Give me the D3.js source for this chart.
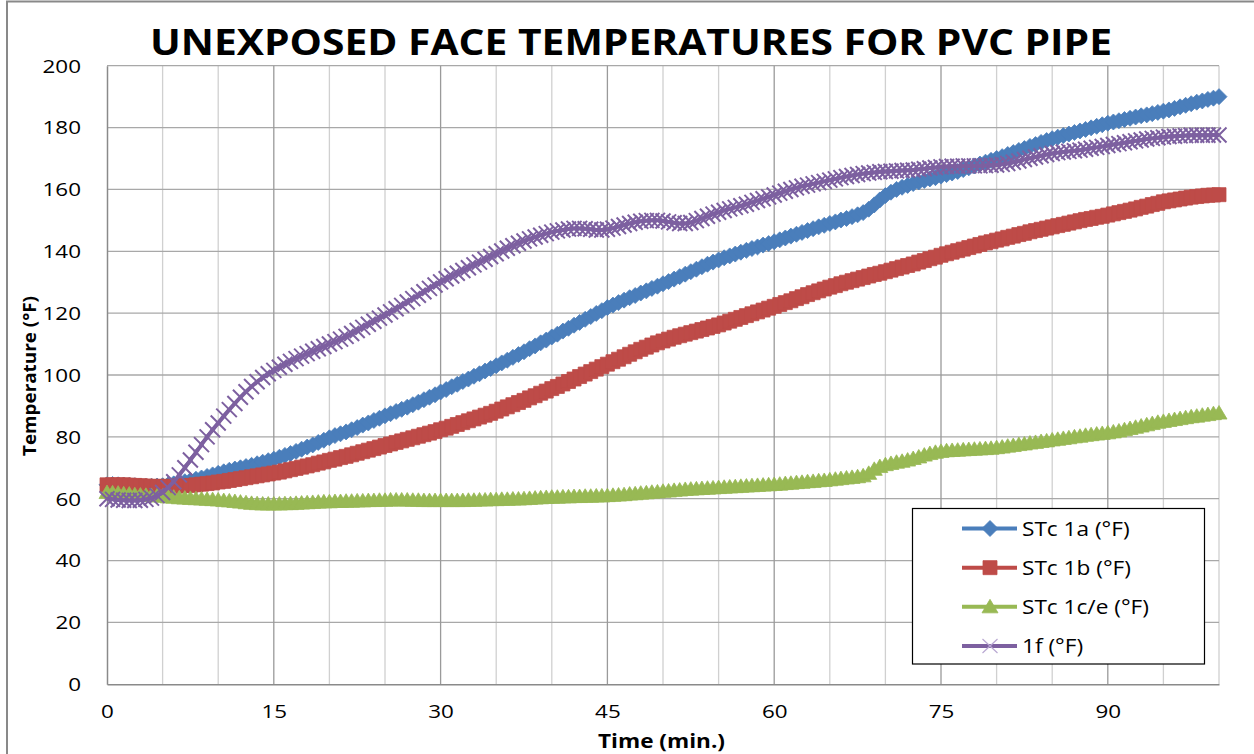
<!DOCTYPE html>
<html><head><meta charset="utf-8">
<script src="https://cdn.jsdelivr.net/npm/d3@7"></script>
<style>
body{margin:0;background:#fff}
svg{display:block}
text{font-family:"Open Sans","DejaVu Sans",sans-serif;fill:#000}
</style>
</head><body>
<svg id="chart" width="1254" height="754"></svg>
<script>
// ---------- data ----------
const chartTitle = "UNEXPOSED FACE TEMPERATURES FOR PVC PIPE";
const xTitle = "Time (min.)";
const yTitle = "Temperature (°F)";
const seriesNames = ["STc 1a (°F)", "STc 1b (°F)", "STc 1c/e (°F)", "1f (°F)"];
const xTickLabels = [0, 15, 30, 45, 60, 75, 90];
const yTickLabels = [0, 20, 40, 60, 80, 100, 120, 140, 160, 180, 200];
// readings every half minute, 0 .. 100 min
const times = d3.range(0, 100.25, 0.5);

const stc1a = [
64.5,64.6,64.5,64.4,64.3,64.2,64.0,64.0,64.0,64.1,64.2,64.5,64.8,65.1,65.5,65.9,66.3,66.7,67.2,67.7,
68.2,68.7,69.2,69.6,70.0,70.4,70.8,71.3,71.8,72.3,72.8,73.4,74.0,74.6,75.3,76.0,76.7,77.4,78.2,78.9,
79.7,80.4,81.0,81.6,82.3,83.0,83.8,84.5,85.3,86.0,86.8,87.5,88.2,88.9,89.6,90.4,91.2,92.0,92.8,93.6,
94.5,95.3,96.2,97.0,97.9,98.7,99.6,100.4,101.3,102.1,103.0,103.9,104.8,105.7,106.6,107.5,108.5,109.4,110.4,111.3,
112.3,113.2,114.2,115.1,116.1,117.0,118.0,118.9,119.9,120.8,121.8,122.6,123.4,124.2,125.0,125.7,126.5,127.2,128.0,128.7,
129.5,130.2,131.0,131.8,132.6,133.4,134.2,135.0,135.8,136.5,137.2,137.9,138.5,139.1,139.7,140.3,140.9,141.4,142.0,142.5,
143.1,143.7,144.3,144.9,145.5,146.1,146.7,147.3,147.9,148.4,149.0,149.5,150.1,150.6,151.2,151.8,152.5,153.6,155.0,156.6,
158.0,159.1,160.0,160.7,161.3,161.9,162.4,162.9,163.4,163.8,164.3,164.8,165.3,165.8,166.4,167.0,167.6,168.2,168.8,169.4,
170.0,170.6,171.3,171.9,172.6,173.2,173.9,174.5,175.2,175.8,176.4,176.9,177.4,177.9,178.4,178.9,179.4,179.9,180.4,180.9,
181.4,181.8,182.2,182.6,183.0,183.4,183.8,184.1,184.5,184.9,185.3,185.7,186.2,186.7,187.2,187.7,188.2,188.6,189.1,189.5,
190.0];

const stc1b = [
64.5,64.5,64.5,64.5,64.4,64.3,64.2,64.1,64.0,64.0,64.0,64.0,64.0,64.1,64.2,64.3,64.5,64.7,64.9,65.1,
65.4,65.6,65.9,66.2,66.5,66.8,67.1,67.4,67.7,68.0,68.3,68.6,69.0,69.4,69.8,70.2,70.6,71.0,71.5,71.9,
72.4,72.8,73.3,73.7,74.2,74.7,75.2,75.7,76.2,76.7,77.2,77.7,78.2,78.7,79.2,79.7,80.2,80.7,81.2,81.7,
82.3,82.8,83.4,84.0,84.6,85.2,85.8,86.4,87.0,87.6,88.3,89.0,89.7,90.4,91.1,91.8,92.6,93.3,94.1,94.8,
95.6,96.3,97.1,97.9,98.7,99.5,100.3,101.1,101.9,102.7,103.5,104.3,105.1,105.9,106.7,107.5,108.3,109.0,109.7,110.4,
111.0,111.6,112.2,112.7,113.2,113.7,114.2,114.7,115.2,115.7,116.2,116.8,117.4,118.0,118.6,119.2,119.8,120.4,121.0,121.6,
122.2,122.8,123.4,124.0,124.7,125.3,126.0,126.6,127.2,127.8,128.4,128.9,129.5,130.0,130.5,131.0,131.5,132.0,132.5,132.9,
133.4,133.9,134.4,134.9,135.4,135.9,136.5,137.0,137.6,138.1,138.7,139.2,139.7,140.2,140.7,141.2,141.7,142.2,142.7,143.1,
143.6,144.0,144.5,144.9,145.4,145.8,146.3,146.7,147.1,147.5,147.9,148.3,148.7,149.1,149.5,149.9,150.3,150.6,151.0,151.3,
151.7,152.1,152.5,152.9,153.3,153.7,154.2,154.6,155.1,155.5,156.0,156.3,156.6,156.9,157.2,157.5,157.7,157.9,158.1,158.2,
158.3];

const stc1ce = [
62.0,61.9,61.8,61.6,61.5,61.3,61.2,61.1,61.0,60.9,60.8,60.6,60.5,60.3,60.2,60.1,60.0,59.9,59.8,59.7,
59.6,59.4,59.3,59.1,58.9,58.7,58.5,58.4,58.3,58.3,58.3,58.3,58.4,58.4,58.5,58.6,58.7,58.8,58.9,59.0,
59.0,59.1,59.1,59.2,59.2,59.3,59.3,59.4,59.4,59.5,59.5,59.6,59.6,59.6,59.6,59.5,59.5,59.4,59.4,59.4,
59.4,59.4,59.4,59.4,59.4,59.5,59.5,59.6,59.6,59.7,59.7,59.8,59.8,59.9,59.9,60.0,60.1,60.2,60.3,60.4,
60.5,60.5,60.6,60.6,60.7,60.7,60.8,60.8,60.9,60.9,61.0,61.1,61.2,61.3,61.5,61.6,61.8,61.9,62.1,62.2,
62.4,62.5,62.7,62.8,63.0,63.1,63.2,63.3,63.4,63.5,63.6,63.7,63.8,63.9,64.0,64.1,64.2,64.3,64.4,64.5,
64.6,64.7,64.9,65.0,65.2,65.3,65.5,65.6,65.8,65.9,66.1,66.3,66.5,66.7,66.9,67.1,67.4,68.2,69.5,70.4,
71.0,71.4,71.8,72.1,72.5,73.0,73.5,74.1,74.6,75.0,75.3,75.5,75.6,75.7,75.8,75.9,76.0,76.1,76.2,76.3,
76.5,76.7,77.0,77.2,77.5,77.7,78.0,78.2,78.5,78.7,79.0,79.2,79.5,79.7,80.0,80.2,80.5,80.7,80.9,81.1,
81.3,81.6,81.9,82.3,82.7,83.1,83.5,83.9,84.3,84.7,85.0,85.3,85.6,85.9,86.2,86.5,86.7,87.0,87.2,87.5,
87.7];

const tc1f = [
60.0,59.8,59.6,59.5,59.4,59.4,59.5,59.8,60.2,61.0,62.0,63.6,65.5,67.7,70.0,72.5,75.0,77.5,80.0,82.3,
84.5,86.7,88.8,90.8,92.8,94.6,96.3,97.8,99.2,100.4,101.5,102.5,103.5,104.4,105.3,106.1,106.9,107.7,108.5,109.2,
110.0,110.8,111.6,112.5,113.4,114.4,115.4,116.4,117.4,118.4,119.4,120.4,121.4,122.5,123.6,124.7,125.8,126.9,128.0,129.1,
130.1,131.1,132.0,132.9,133.8,134.7,135.6,136.5,137.4,138.3,139.2,140.1,141.0,141.8,142.6,143.3,144.0,144.6,145.2,145.7,
146.2,146.6,146.9,147.2,147.4,147.4,147.3,147.1,146.9,146.9,147.1,147.5,148.0,148.5,149.0,149.4,149.7,149.9,150.0,150.0,
149.8,149.5,149.2,149.0,149.0,149.3,149.9,150.6,151.3,152.0,152.6,153.2,153.7,154.2,154.7,155.2,155.8,156.4,157.0,157.6,
158.2,158.8,159.4,160.0,160.5,161.0,161.4,161.8,162.2,162.6,163.0,163.4,163.8,164.2,164.5,164.8,165.1,165.3,165.5,165.7,
165.8,165.9,166.0,166.1,166.2,166.3,166.5,166.7,166.9,167.1,167.3,167.4,167.5,167.5,167.6,167.6,167.6,167.6,167.7,167.8,
167.9,168.1,168.4,168.8,169.2,169.7,170.1,170.5,170.9,171.3,171.6,171.9,172.1,172.3,172.5,172.7,173.0,173.3,173.6,173.9,
174.2,174.5,174.8,175.1,175.4,175.7,176.0,176.3,176.5,176.7,176.9,177.1,177.2,177.3,177.4,177.5,177.5,177.5,177.5,177.6,
177.6];

// ---------- layout / style ----------
const W = 1254, H = 754;
const plot = {left: 107, right: 1219, top: 65.7, bottom: 684.3};
const colors = ["#4A7EBB", "#BE4B48", "#98B954", "#7D60A0"];
const shapes = ["diamond", "square", "triangle", "x"];
const seriesValues = [stc1a, stc1b, stc1ce, tc1f];

const svg = d3.select("#chart");
svg.append("rect").attr("width", W).attr("height", H).attr("fill", "#fff");
svg.append("rect").attr("x", 7).attr("y", 1.5).attr("width", W + 20).attr("height", H + 20)
  .attr("fill", "none").attr("stroke", "#898989").attr("stroke-width", 2);

const x = d3.scaleLinear().domain([0, 100]).range([plot.left, plot.right]);
const y = d3.scaleLinear().domain([0, 200]).range([plot.bottom, plot.top]);

// gridlines
const grid = svg.append("g");
grid.selectAll("line.vmin").data(d3.range(5, 101, 5).filter(v => v % 15 !== 0)).join("line")
  .attr("x1", d => x(d)).attr("x2", d => x(d)).attr("y1", plot.top).attr("y2", plot.bottom)
  .attr("stroke", "#d0d0d0").attr("stroke-width", 1.3);
grid.selectAll("line.h").data(yTickLabels.filter(v => v > 0)).join("line")
  .attr("x1", plot.left).attr("x2", plot.right).attr("y1", d => y(d)).attr("y2", d => y(d))
  .attr("stroke", "#a8a8a8").attr("stroke-width", 1.3);
grid.selectAll("line.vmaj").data(xTickLabels.filter(v => v > 0)).join("line")
  .attr("x1", d => x(d)).attr("x2", d => x(d)).attr("y1", plot.top).attr("y2", plot.bottom)
  .attr("stroke", "#9a9a9a").attr("stroke-width", 1.3);

function stretchText(sel, k) {
  sel.each(function() { const w = this.getComputedTextLength(); d3.select(this).attr("textLength", w * k).attr("lengthAdjust", "spacingAndGlyphs"); });
}

// axes
const yAxis = svg.append("g").attr("transform", `translate(${plot.left},0)`)
  .call(d3.axisLeft(y).tickValues(yTickLabels).tickSize(0).tickPadding(26));
const xAxis = svg.append("g").attr("transform", `translate(0,${plot.bottom})`)
  .call(d3.axisBottom(x).tickValues(xTickLabels).tickSize(0).tickPadding(23));
[yAxis, xAxis].forEach(a => {
  a.select(".domain").attr("stroke", "#8a8a8a").attr("stroke-width", 1.5);
  a.selectAll("text").style("font-family", '"Open Sans", sans-serif').style("font-size", "17.5px").attr("fill", "#111");
});
yAxis.selectAll("text").attr("dy", "0.36em");
xAxis.selectAll("text").attr("dy", "0.62em");
stretchText(yAxis.selectAll("text"), 1.28);
stretchText(xAxis.selectAll("text"), 1.28);

// marker shapes
function markerPath(s) {
  switch (s) {
    case "diamond": return "M0,-8L8,0L0,8L-8,0Z";
    case "square": return "M-7,-7H7V7H-7Z";
    case "triangle": return "M0,-7.5L8,6L-8,6Z";
    case "x": return "M-7.5,-7.5L7.5,7.5M-7.5,7.5L7.5,-7.5";
  }
}
function drawMarker(g, s, c) {
  const p = g.append("path").attr("d", markerPath(s));
  if (s === "x") p.attr("fill", "none").attr("stroke", c).attr("stroke-width", 2);
  else p.attr("fill", c).attr("stroke", c).attr("stroke-width", 0.8);
}

const line = d3.line().x(d => x(d.t)).y(d => y(d.v));
seriesValues.forEach((vals, i) => {
  const pts = times.map((t, j) => ({t, v: vals[j]})).filter(d => d.v != null);
  const g = svg.append("g");
  g.append("path").datum(pts).attr("d", line).attr("fill", "none")
    .attr("stroke", colors[i]).attr("stroke-width", 4).attr("stroke-linejoin", "round");
  g.selectAll("g.m").data(pts).join("g")
    .attr("transform", d => `translate(${x(d.t)},${y(d.v)})`)
    .each(function() { drawMarker(d3.select(this), shapes[i], colors[i]); });
});

// titles
const t = svg.append("text").attr("x", 631).attr("y", 55).attr("text-anchor", "middle")
  .style("font-weight", "bold").style("font-size", "35px")
  .text(chartTitle);
t.attr("textLength", 962).attr("lengthAdjust", "spacingAndGlyphs");

const xt = svg.append("text").attr("x", 661.5).attr("y", 748).attr("text-anchor", "middle")
  .style("font-weight", "bold").style("font-size", "19.5px")
  .text(xTitle);
xt.attr("textLength", 127).attr("lengthAdjust", "spacingAndGlyphs");

const yt = svg.append("text").attr("transform", "translate(36,376) rotate(-90)").attr("text-anchor", "middle")
  .style("font-weight", "bold").style("font-size", "17.5px")
  .text(yTitle);
yt.attr("textLength", 160).attr("lengthAdjust", "spacingAndGlyphs");

// legend
const lg = svg.append("g");
lg.append("rect").attr("x", 912.5).attr("y", 508.5).attr("width", 292).attr("height", 155.5)
  .attr("fill", "#fff").attr("stroke", "#000").attr("stroke-width", 1.2);
const rowY = d3.scalePoint().domain(seriesNames).range([528.5, 646]);
seriesNames.forEach((name, i) => {
  const ry = rowY(name);
  lg.append("line").attr("x1", 962).attr("x2", 1017).attr("y1", ry).attr("y2", ry)
    .attr("stroke", colors[i]).attr("stroke-width", 4);
  const mg = lg.append("g").attr("transform", `translate(990,${ry})`);
  if (shapes[i] === "x") {
    mg.append("path").attr("d", "M-7.5,-7L7.5,7M-7.5,7L7.5,-7").attr("fill", "none").attr("stroke", "#b9a8d2").attr("stroke-width", 1.2);
  } else drawMarker(mg, shapes[i], colors[i]);
  const tx = lg.append("text").attr("x", 1022).attr("y", ry).attr("dy", "0.36em")
    .style("font-size", "19.5px").attr("fill", "#222").text(name);
  stretchText(tx, 1.16);
});
</script>
</body></html>
